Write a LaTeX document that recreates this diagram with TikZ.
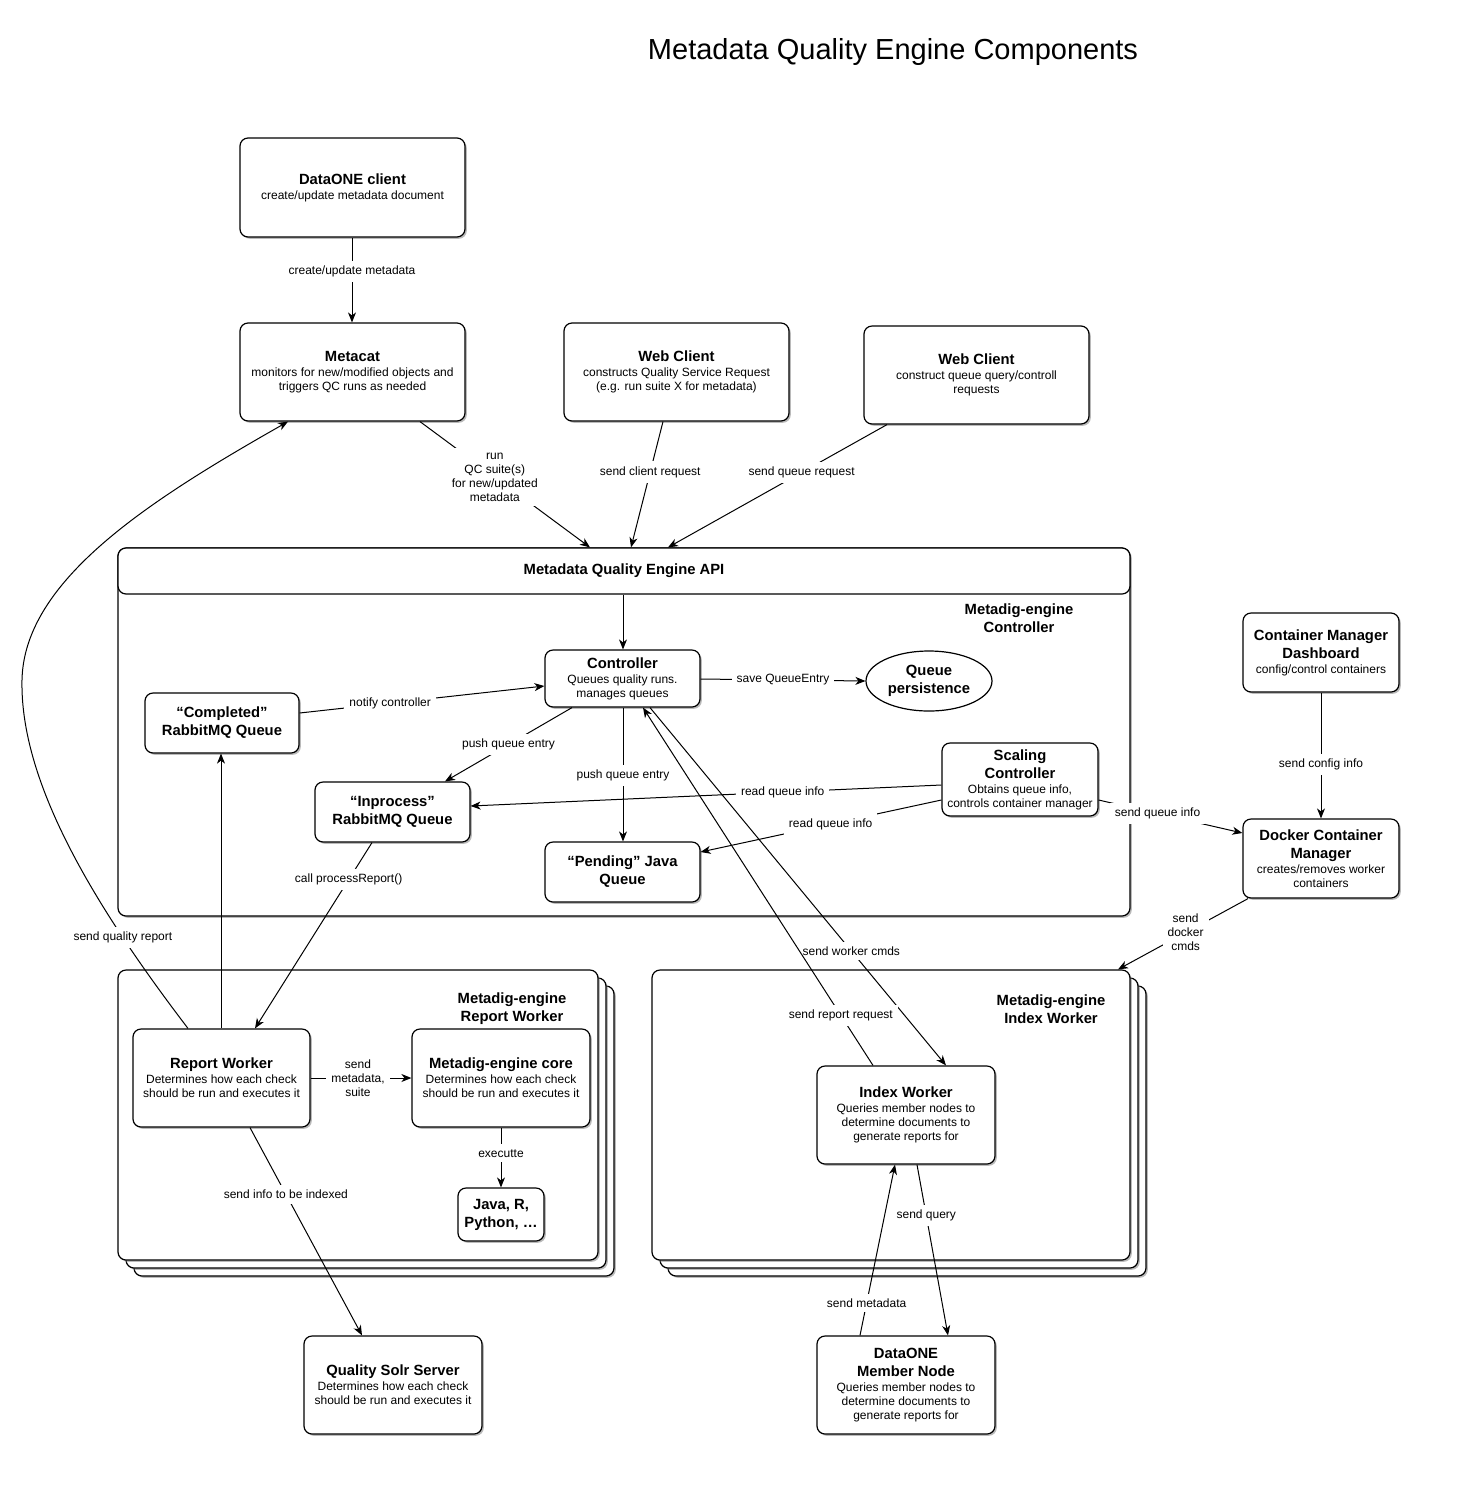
\documentclass[tikz,border=0pt]{standalone}
\usepackage{fontspec}
\setmainfont{Liberation Sans}
\usetikzlibrary{arrows.meta,shadows,shapes.geometric}
\newcommand{\bt}[1]{{\bfseries\fontsize{7.4}{9}\selectfont #1}}
\begin{document}
\begin{tikzpicture}[x=0.5pt,y=-0.5pt,
  every node/.style={font=\fontsize{6}{7}\selectfont},
  sz/.style 2 args={minimum width=#1*0.5pt, minimum height=#2*0.5pt},
  boxns/.style={draw, line width=0.6pt, rounded corners=4pt, fill=white, align=center, inner sep=0pt},
  box/.style={boxns, drop shadow={shadow xshift=0.9pt, shadow yshift=-0.9pt, fill=black!45, opacity=0.6}},
  conn/.style={line width=0.5pt, -{Stealth[length=5pt,width=4pt,inset=1.5pt]}},
  lbl/.style={fill=white, inner sep=2.5pt, align=center, font=\fontsize{6}{7}\selectfont},
]
\useasboundingbox (0,0) rectangle (1475,1512);

% title
\node (title) at (893,52) {\fontsize{14.5}{17}\selectfont Metadata Quality Engine Components};

% top row
\node[box, sz={225}{99}] (dataone) at (352.5,187.5) {\bt{DataONE client}\\[0.5pt]create/update metadata document};
\node[box, sz={225}{98}] (metacat) at (352.5,372) {\bt{Metacat}\\[0.5pt]monitors for new/modified objects and\\triggers QC runs as needed};
\node[box, sz={225}{98}] (web1) at (676.5,372) {\bt{Web Client}\\[0.5pt]constructs Quality Service Request\\(e.g. run suite X for metadata)};
\node[box, sz={225}{98}] (web2) at (976.5,375) {\bt{Web Client}\\[0.5pt]construct queue query/controll\\requests};

% controller container
\node[box, sz={1012}{368}] (ctrlcont) at (624,732) {};
\node[boxns, sz={1012}{46}] (api) at (624,571) {\bt{Metadata Quality Engine API}};
\node[align=center] (ctrltitle) at (1019,618) {\bt{Metadig-engine}\\[2pt]\bt{Controller}};

\node[box, sz={155}{57}] (controller) at (622.5,678.5) {\bt{Controller}\\[0.5pt]Queues quality runs.\\manages queues};
\node[draw, line width=0.6pt, ellipse, fill=white, align=center, inner sep=0pt, sz={126}{60}] (qp) at (929,681) {\bt{Queue}\\[2pt]\bt{persistence}};
\node[box, sz={154}{60}] (completed) at (222,723) {\bt{“Completed”}\\[2pt]\bt{RabbitMQ Queue}};
\node[box, sz={155}{60}] (inprocess) at (392.5,812) {\bt{“Inprocess”}\\[2pt]\bt{RabbitMQ Queue}};
\node[box, sz={155}{60}] (pending) at (622.5,872) {\bt{“Pending” Java}\\[2pt]\bt{Queue}};
\node[box, sz={156}{73}] (scaling) at (1020,779.5) {\bt{Scaling}\\[2pt]\bt{Controller}\\[0.5pt]Obtains queue info,\\controls container manager};

% container manager
\node[box, sz={156}{79}] (dashboard) at (1321,652.5) {\bt{Container Manager}\\[2pt]\bt{Dashboard}\\[0.5pt]config/control containers};
\node[box, sz={156}{79}] (docker) at (1321,858.5) {\bt{Docker Container}\\[2pt]\bt{Manager}\\[0.5pt]creates/removes worker\\containers};

% report worker stack
\foreach \d in {16,8} {
  \draw[line width=0.6pt, rounded corners=4pt, fill=white, drop shadow={shadow xshift=0.9pt, shadow yshift=-0.9pt, fill=black!45, opacity=0.6}] (118+\d,970+\d) rectangle (598+\d,1260+\d);
}
\node[box, sz={480}{290}] (rwcont) at (358,1115) {};
\node[align=center] (rwtitle) at (512,1009) {\bt{Metadig-engine}\\[2pt]\bt{Report Worker}};

% index worker stack
\foreach \d in {16,8} {
  \draw[line width=0.6pt, rounded corners=4pt, fill=white, drop shadow={shadow xshift=0.9pt, shadow yshift=-0.9pt, fill=black!45, opacity=0.6}] (652+\d,970+\d) rectangle (1130+\d,1260+\d);
}
\node[box, sz={478}{290}] (iwcont) at (891,1115) {};
\node[align=center] (iwtitle) at (1051,1009) {\bt{Metadig-engine}\\[2pt]\bt{Index Worker}};

\node[box, sz={177}{98}] (rw) at (221.5,1078) {\bt{Report Worker}\\[0.5pt]Determines how each check\\should be run and executes it};
\node[box, sz={178}{98}] (core) at (501,1078) {\bt{Metadig-engine core}\\[0.5pt]Determines how each check\\should be run and executes it};
\node[box, sz={86}{53}] (java) at (501,1214.5) {\bt{Java, R,}\\[2pt]\bt{Python, …}};
\node[box, sz={178}{98}] (solr) at (393,1385) {\bt{Quality Solr Server}\\[0.5pt]Determines how each check\\should be run and executes it};
\node[box, sz={178}{98}] (iw) at (906,1115) {\bt{Index Worker}\\[0.5pt]Queries member nodes to\\determine documents to\\generate reports for};
\node[box, sz={178}{98}] (member) at (906,1385) {\bt{DataONE}\\[2pt]\bt{Member Node}\\[0.5pt]Queries member nodes to\\determine documents to\\generate reports for};

% connectors
\draw[conn] (352,0 |- dataone.south) -- node[lbl,pos=0.4]{create/update metadata} (352,0 |- metacat.north);
\draw[conn] (420,0 |- metacat.south) -- node[lbl,pos=0.44]{run\\QC suite(s)\\for new/updated\\metadata} (590,0 |- api.north);
\draw[conn] (663,0 |- web1.south) -- node[lbl,pos=0.4]{send client request} (631,0 |- api.north);
\draw[conn] (887,0 |- web2.south) -- node[lbl,pos=0.39]{send queue request} (668,0 |- api.north);
\draw[conn] (623,0 |- api.south) -- (623,0 |- controller.north);
\draw[conn] (controller.east |- 0,679) -- node[lbl,pos=0.5]{save QueueEntry} (qp.west);
\draw[conn] (completed.east |- 0,713) -- node[lbl,pos=0.37]{notify controller} (controller.west |- 0,686);
\draw[conn] (572,0 |- controller.south) -- node[lbl,pos=0.5]{push queue entry} (445,0 |- inprocess.north);
\draw[conn] (623,0 |- controller.south) -- node[lbl,pos=0.51]{push queue entry} (623,0 |- pending.north);
\draw[conn] (scaling.west |- 0,785) -- node[lbl,pos=0.337]{read queue info} (inprocess.east |- 0,806);
\draw[conn] (scaling.west |- 0,800) -- node[lbl,pos=0.46]{read queue info} (pending.east |- 0,852);
\draw[conn] (scaling.east |- 0,800) -- node[lbl,pos=0.41]{send queue info} (docker.west |- 0,833);
\draw[conn] (dashboard.south) -- node[lbl,pos=0.57]{send config info} (docker.north);
\draw[conn] (1248,0 |- docker.south) -- node[lbl,pos=0.48]{send\\docker\\cmds} (1118,0 |- iwcont.north);
\draw[conn] (650,0 |- controller.south) -- node[lbl,pos=0.68]{send worker cmds} (946,0 |- iw.north);
\draw[conn] (873,0 |- iw.north) -- node[lbl,pos=0.14]{send report request} (643,0 |- controller.south);
\draw[conn] (372,0 |- inprocess.south) -- node[lbl,pos=0.2]{call processReport()} (255,0 |- rw.north);
\draw[conn] (221,0 |- rw.north) -- (221,0 |- completed.south);
\draw[conn] (188,0 |- rw.north) .. controls (90,900) and (20,780) .. node[lbl,pos=0.24]{send quality report} (22,680) .. controls (24,580) and (150,500) .. (288,0 |- metacat.south);
\draw[conn] (rw.east) -- node[lbl,pos=0.47]{send\\metadata,\\suite} (core.west);
\draw[conn] (core.south) -- node[lbl,pos=0.43]{executte} (java.north);
\draw[conn] (250,0 |- rw.south) -- node[lbl,pos=0.32]{send info to be indexed} (362,0 |- solr.north);
\draw[conn] (917,0 |- iw.south) -- node[lbl,pos=0.3]{send query} (948,0 |- member.north);
\draw[conn] (860,0 |- member.north) -- node[lbl,pos=0.19]{send metadata} (895,0 |- iw.south);
\end{tikzpicture}
\end{document}
